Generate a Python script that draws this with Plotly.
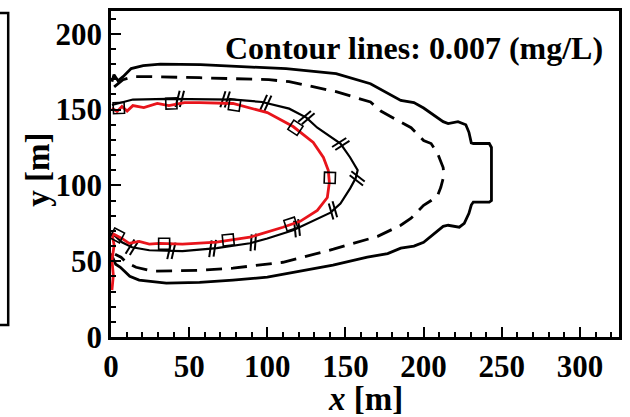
import numpy as np
import plotly.graph_objects as go

# ---------------- data (metres) ----------------
outer_x = [0.6, 1.9, 4.5, 7.7, 12.9, 20.6, 31.6, 57.3, 90, 112, 144, 166, 185.4, 193.8, 200, 206.7,
           212.5, 215.7, 222, 227, 229, 230.5, 231.8, 242, 243.4, 243.4, 242, 231.8, 230.5, 229, 226,
           222.8, 215.7, 212.5, 206.7, 200, 193.8, 185.4, 177, 164, 142, 121, 100, 78, 56.7, 35.4, 18,
           12, 9, 6, 3, 1, 0]
outer_y = [168.4, 173, 169, 171.7, 177, 179, 180, 179.6, 178, 177, 173.7, 167, 156, 154.6, 151, 146,
           142, 140.8, 142, 140, 135, 128, 127.6, 127.6, 125, 90, 89, 89, 87, 81.6, 75,
           72.4, 73.7, 73, 68.4, 62.5, 60, 58.6, 55, 52.6, 47.4, 43.4, 39.5, 37.5, 36, 35.5, 37.5,
           40, 43, 46, 48, 52, 55]

dash_x = [2, 7.7, 14, 25, 56.7, 101, 114, 144, 166, 172.6, 183.5, 192, 200, 204.8, 209, 212.5, 213,
          211, 209, 204.8, 200, 192, 185.4, 170.6, 142.3, 110, 78, 56.7, 26.4, 16, 9.7, 6.4, 2.6]
dash_y = [165, 169.7, 171.7, 171.7, 171, 169.7, 168.4, 161.8, 155, 149, 142.8, 138, 129.6, 127.6, 121,
          111.8, 106.6, 98.7, 93.4, 90, 86.8, 78.3, 73.7, 66.4, 57.9, 49.3, 45.4, 44, 43.4, 46, 49.3,
          52.6, 54.6]

inner_x = [0.6, 7.7, 14, 36, 57.3, 79, 96.6, 114, 125, 132, 146.8, 153, 157.8, 156.5, 153, 146.8,
           140.4, 125.6, 116.5, 100, 88.9, 67.6, 45.7, 24.5, 13.5, 7, 3.2, 0.6]
inner_y = [153, 155, 156.6, 157, 157, 156.6, 155, 150.6, 144.7, 138, 127.6, 118.4, 110, 104.6, 98, 88,
           82, 75, 70.4, 65, 61.8, 58.6, 56.6, 57.2, 59.2, 62.5, 65.8, 68.4]
inner_mark_x = [44, 73, 99, 125, 147, 157.5, 142, 119, 91, 65, 38.6, 13.5]

red_x = [0.6, 3.9, 7, 10.3, 14, 21, 29.6, 37, 47, 56.7, 78, 100, 116.5, 129.4, 135.9, 139, 139.7,
         138.4, 132, 121, 110, 88.9, 67.6, 45.7, 31, 24.5, 18, 11.6, 7, 3.9, 0.6, 2, 0.6, 1.5, 0.6]
red_y = [151, 148.7, 152, 149, 152.6, 151.3, 154, 152.6, 154.6, 154.6, 154, 148, 138.8, 128.3, 118.4,
         110, 102, 92, 83.5, 76.3, 72.4, 65.8, 62.5, 61.2, 61.8, 61.2, 63, 61.8, 65, 66.4, 68.4, 60.5,
         50.6, 40.8, 31]
square_x = [5, 38.6, 79, 118, 140, 115, 75, 34, 3.9]
square_y = [151, 154, 153, 138, 105, 74.5, 64, 61.5, 67]

x_ticks = [0, 50, 100, 150, 200, 250, 300]
y_ticks = [0, 50, 100, 150, 200]
note_text = "Contour lines: 0.007 (mg/L)"

# ---------------- layout geometry ----------------
W, H = 630, 417
ML, MR, MT, MB = 111, 10, 8, 80
XR = [0, 325]
YR = [0, 215]
SX = (W - ML - MR) / (XR[1] - XR[0])
SY = (H - MT - MB) / (YR[1] - YR[0])
FONT = "Liberation Serif"


def tangent_angle(cx, cy, px, py):
    cx = np.asarray(cx, float)
    cy = np.asarray(cy, float)
    d = (cx - px) ** 2 * SX ** 2 + (cy - py) ** 2 * SY ** 2
    i = int(np.argmin(d))
    i0, i1 = max(i - 1, 0), min(i + 1, len(cx) - 1)
    dx = (cx[i1] - cx[i0]) * SX
    dy = -(cy[i1] - cy[i0]) * SY
    return np.degrees(np.arctan2(dy, dx))


def y_on_curve(cx, cy, px, side):
    cx = np.asarray(cx, float)
    cy = np.asarray(cy, float)
    best = None
    for k in range(len(cx) - 1):
        a, b = cx[k], cx[k + 1]
        if (a - px) * (b - px) <= 0 and a != b:
            t = (px - a) / (b - a)
            yy = cy[k] + t * (cy[k + 1] - cy[k])
            if best is None or (side == "top" and yy > best) or (side == "bot" and yy < best):
                best = yy
    return best


fig = go.Figure()
fig.add_trace(go.Scatter(x=outer_x, y=outer_y, mode="lines",
                         line=dict(color="black", width=2.8), hoverinfo="skip"))
fig.add_trace(go.Scatter(x=dash_x, y=dash_y, mode="lines",
                         line=dict(color="black", width=2.8, dash="16px,9px"), hoverinfo="skip"))
fig.add_trace(go.Scatter(x=inner_x, y=inner_y, mode="lines",
                         line=dict(color="black", width=2.2), hoverinfo="skip"))

sides = ["top"] * 5 + ["tip"] + ["bot"] * 6
mx, my = [], []
for xv, s in zip(inner_mark_x, sides):
    if s == "tip":
        mx.append(xv)
        my.append(104.6)
    else:
        mx.append(xv)
        my.append(y_on_curve(inner_x, inner_y, xv, s))
angs = [tangent_angle(inner_x, inner_y, a, b) for a, b in zip(mx, my)]
for off in (-2.2, 2.2):
    xx = [a + np.cos(np.radians(g)) * off / SX for a, g in zip(mx, angs)]
    yy = [b - np.sin(np.radians(g)) * off / SY for b, g in zip(my, angs)]
    fig.add_trace(go.Scatter(x=xx, y=yy, mode="markers", hoverinfo="skip",
                             marker=dict(symbol="line-ns", size=12, angle=[g + 15 for g in angs],
                                         line=dict(color="black", width=2.0))))

fig.add_trace(go.Scatter(x=red_x, y=red_y, mode="lines",
                         line=dict(color="#e8141b", width=2.8), hoverinfo="skip"))
sq_ang = [tangent_angle(red_x[:31], red_y[:31], a, b) for a, b in zip(square_x, square_y)]
fig.add_trace(go.Scatter(x=square_x, y=square_y, mode="markers", hoverinfo="skip",
                         marker=dict(symbol="square-open", size=11, angle=sq_ang,
                                     color="black", line=dict(color="black", width=1.6))))

axis_common = dict(showline=True, linecolor="black", linewidth=2.5, mirror=True,
                   ticks="inside", ticklen=10, tickwidth=2, tickcolor="black",
                   showgrid=False, zeroline=False,
                   tickfont=dict(family=FONT, size=31, color="black"))
fig.update_xaxes(range=XR, tickvals=x_ticks, ticktext=[f"<b>{v}</b>" for v in x_ticks],
                 minor=dict(ticks="inside", ticklen=5, tickwidth=1.5, tickcolor="black", dtick=10),
                 **axis_common)
fig.update_yaxes(range=YR, tickvals=y_ticks, ticktext=[f"<b>{v}</b>" for v in y_ticks],
                 minor=dict(ticks="inside", ticklen=5, tickwidth=1.5, tickcolor="black", dtick=10),
                 **axis_common)


def px2paper_x(p):
    return (p - ML) / (W - ML - MR)


def py2paper_y(p):
    return (H - MB - p) / (H - MT - MB)


fig.add_shape(type="rect", xref="paper", yref="paper",
              x0=px2paper_x(-20), x1=px2paper_x(8), y0=py2paper_y(325), y1=py2paper_y(10),
              line=dict(color="black", width=2.5))

fig.add_annotation(text=f"<b>{note_text}</b>", xref="paper", yref="paper",
                   x=px2paper_x(606), y=py2paper_y(45), xanchor="right", yanchor="middle",
                   showarrow=False, font=dict(family=FONT, size=32, color="black"))
fig.add_annotation(text="<b>y [m]</b>", xref="paper", yref="paper", textangle=-90,
                   x=px2paper_x(37), y=py2paper_y(168), xanchor="center", yanchor="middle",
                   showarrow=False, font=dict(family=FONT, size=33, color="black"))
fig.add_annotation(text="<b><i>x</i> [m]</b>", xref="paper", yref="paper",
                   x=px2paper_x(366), y=py2paper_y(400), xanchor="center", yanchor="middle",
                   showarrow=False, font=dict(family=FONT, size=33, color="black"))

fig.update_layout(width=W, height=H, margin=dict(l=ML, r=MR, t=MT, b=MB),
                  paper_bgcolor="white", plot_bgcolor="white", showlegend=False,
                  font=dict(family=FONT))
fig.write_html("out.html")
